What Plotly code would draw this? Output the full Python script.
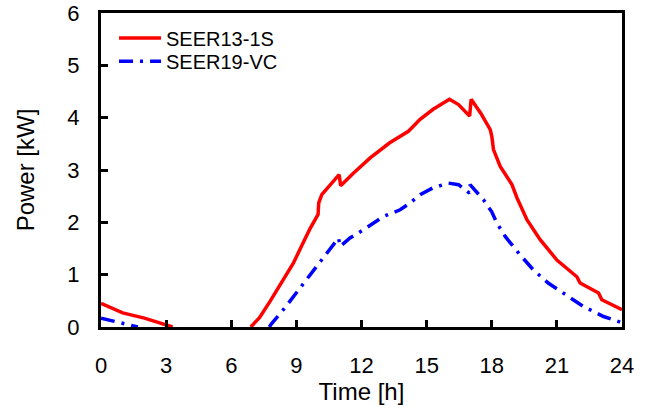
import plotly.graph_objects as go

# hourly power of two air conditioners
hours_1s = [0, 1.0, 2.0, 2.5, 3.0, 3.3, None, 6.9, 7.3, 7.8, 8.4, 8.86, 9.3, 9.63, 10.0, 10.03,
            10.17, 10.55, 10.97, 11.04, 11.6, 12.4, 13.3, 14.16, 14.7, 15.3, 16.05, 16.47, 16.98,
            17.05, 17.5, 17.93, 18.0, 18.08, 18.39, 18.93, 19.16, 19.62, 20.23, 21.0, 21.92,
            22.07, 22.92, 23.07, 24.0]
power_1s = [0.45, 0.27, 0.17, 0.10, 0.03, 0.0, None, 0.0, 0.18, 0.50, 0.90, 1.22, 1.60, 1.88, 2.15, 2.37,
            2.53, 2.72, 2.91, 2.70, 2.93, 3.23, 3.52, 3.74, 3.97, 4.16, 4.35, 4.25, 4.03,
            4.35, 4.08, 3.77, 3.65, 3.39, 3.07, 2.72, 2.47, 2.05, 1.67, 1.28, 0.96,
            0.84, 0.65, 0.52, 0.33]

hours_vc = [0, 0.7, 1.34, 1.7, None, 7.75, 7.87, 8.4, 9.17, 9.94, 10.4, 10.94, 11.02, 11.47,
            12.1, 13.0, 13.78, 14.24, 14.7, 15.3, 16.0, 16.47, 16.97, 17.0, 17.62, 18.0, 18.23,
            18.62, 19.3, 19.92, 20.6, 21.46, 22.23, 23.15, 24.0]
power_vc = [0.17, 0.10, 0.04, 0.0, None, 0.0, 0.07, 0.33, 0.74, 1.16, 1.41, 1.70, 1.54, 1.70,
            1.86, 2.11, 2.24, 2.37, 2.53, 2.66, 2.75, 2.72, 2.56, 2.72, 2.43, 2.20, 1.99,
            1.73, 1.38, 1.09, 0.84, 0.61, 0.39, 0.20, 0.08]

x_ticks = list(range(0, 25, 3))
y_ticks = list(range(0, 7))

fig = go.Figure()
fig.add_trace(go.Scatter(x=hours_1s, y=power_1s, mode='lines', name='SEER13-1S',
                         line=dict(color='#ff0000', width=3.5), legend='legend',
                         showlegend=True))
fig.add_trace(go.Scatter(x=hours_vc, y=power_vc, mode='lines', name='SEER19-VC',
                         line=dict(color='#0000ff', width=3.5, dash='14px,7px,3px,7px'),
                         legend='legend2', showlegend=True))

# one legend per trace so the rows can sit closer than plotly's default spacing
legend_style = dict(x=0.025, xanchor='left', yanchor='middle', font=dict(size=20),
                    bgcolor='rgba(0,0,0,0)', itemwidth=42, visible=True)

fig.update_layout(
    width=647, height=410,
    margin=dict(l=101, r=25, t=13, b=83, autoexpand=False),
    plot_bgcolor='white', paper_bgcolor='white',
    font=dict(family='Arial, Liberation Sans', size=22, color='black'),
    showlegend=True,
    legend=dict(y=0.92, **legend_style),
    legend2=dict(y=0.846, **legend_style),
)

axis_style = dict(showline=True, linecolor='black', linewidth=3, mirror=True,
                  ticks='inside', ticklen=7, tickwidth=2.5, tickcolor='black',
                  showgrid=False, zeroline=False, automargin=False,
                  ticklabeloverflow='allow')
fig.update_xaxes(range=[0, 24], tickvals=x_ticks, ticklabelstandoff=17,
                 title=dict(text='Time [h]', font=dict(size=24), standoff=6),
                 **axis_style)
fig.update_yaxes(range=[0, 6], tickvals=y_ticks, ticklabelstandoff=14,
                 title=dict(text='Power [kW]', font=dict(size=24), standoff=26),
                 **axis_style)

# drop the page's default body margin so the figure sits at the window corner
fig.write_html("out.html", config={'displayModeBar': False},
               post_script="document.body.style.margin = '0';")
